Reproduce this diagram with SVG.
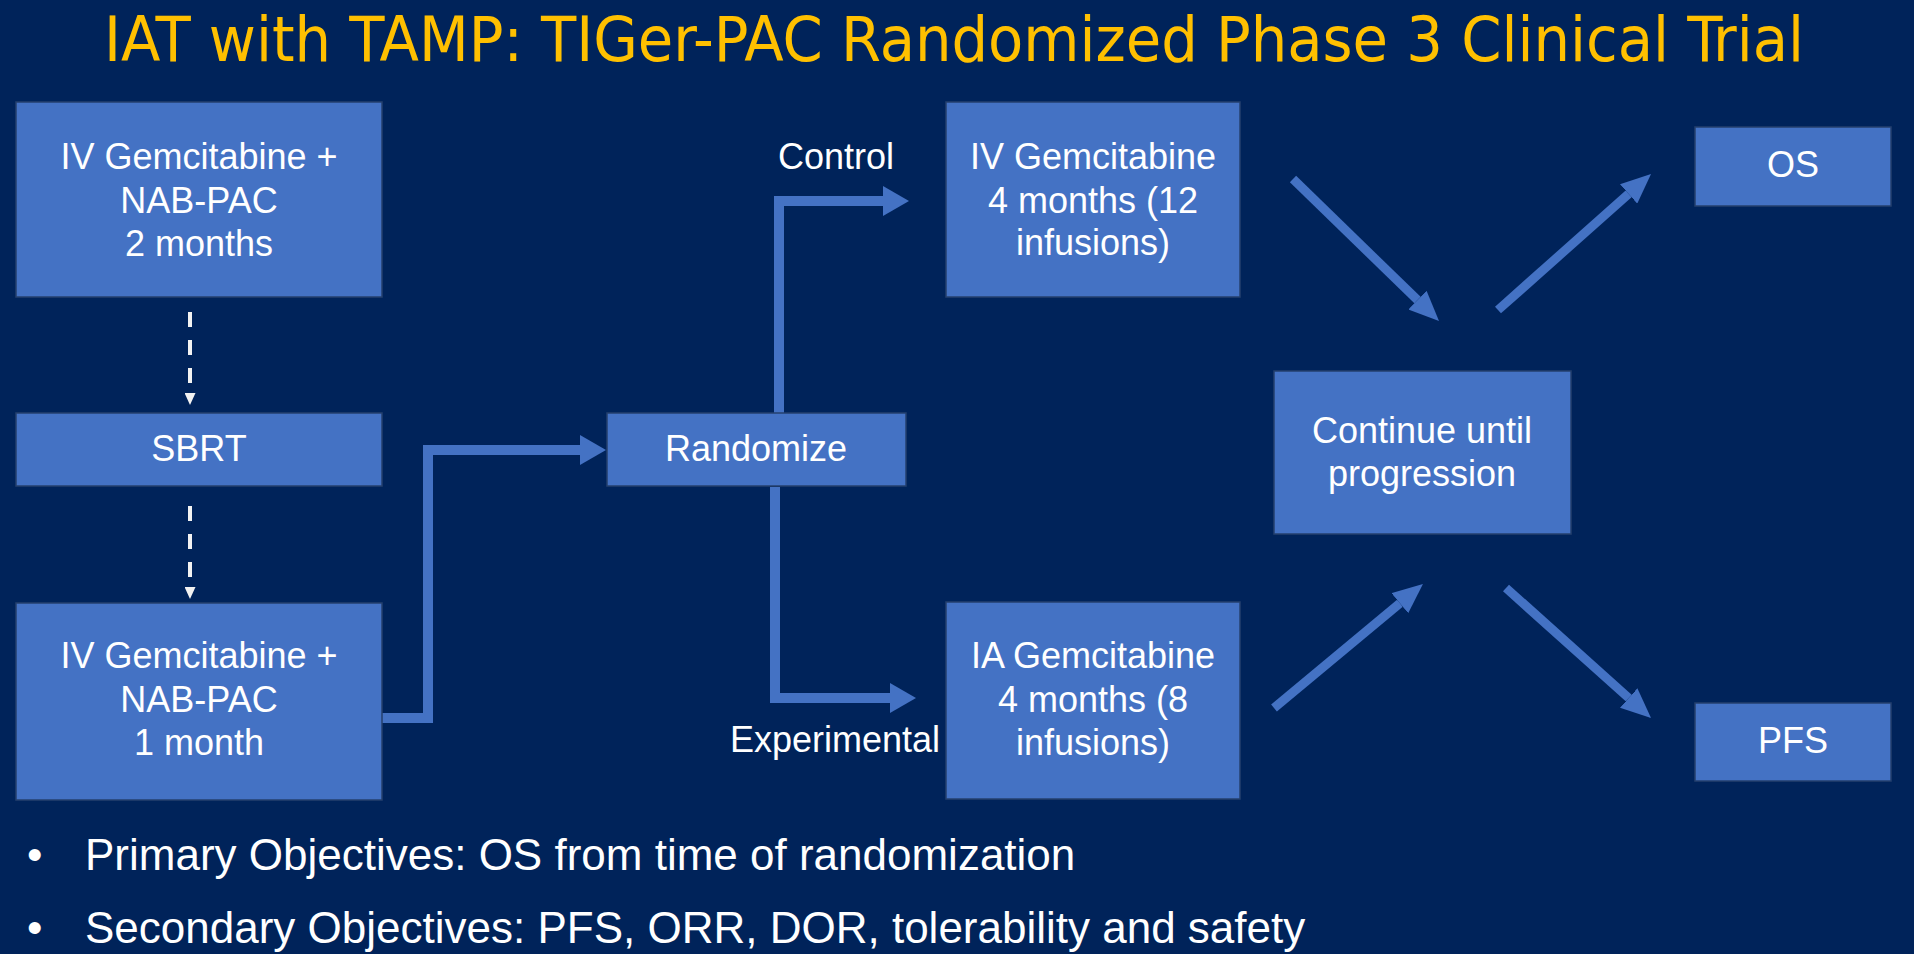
<svg xmlns="http://www.w3.org/2000/svg" width="1914" height="954" viewBox="0 0 1914 954">
<defs>
<style>
.box{fill:#4472C4;stroke:#24406E;stroke-width:1.5}
.t{font-family:"Liberation Sans",Arial,sans-serif;font-size:36px;fill:#FFFFFF;text-anchor:middle}
.lbl{font-family:"Liberation Sans",Arial,sans-serif;font-size:36px;fill:#FFFFFF}
.bul{font-family:"Liberation Sans",Arial,sans-serif;font-size:44px;fill:#FFFFFF}
.title{font-family:"DejaVu Sans Condensed","DejaVu Sans",sans-serif;font-size:63px;fill:#FFC000;text-anchor:middle}
.elbow{fill:none;stroke:#4472C4;stroke-width:10;stroke-linejoin:miter;marker-end:url(#bigHead)}
.diag{fill:none;stroke:#4472C4;stroke-width:9;marker-end:url(#diagHead)}
.dash{fill:none;stroke:#F2F2F2;stroke-width:4;stroke-dasharray:15 13;marker-end:url(#dashHead)}
</style>
<marker id="bigHead" markerUnits="userSpaceOnUse" markerWidth="26" markerHeight="30" refX="0" refY="15" orient="auto">
<path d="M0,0 L26,15 L0,30 z" fill="#4472C4"/>
</marker>
<marker id="diagHead" markerUnits="userSpaceOnUse" markerWidth="30" markerHeight="26" refX="0" refY="13" orient="auto">
<path d="M0,0 L30,13 L0,26 z" fill="#4472C4"/>
</marker>
<marker id="dashHead" markerUnits="userSpaceOnUse" markerWidth="12" markerHeight="11" refX="0" refY="5.5" orient="auto">
<path d="M0,0 L12,5.5 L0,11 z" fill="#F2F2F2"/>
</marker>
</defs>
<rect x="0" y="0" width="1914" height="954" fill="#00235A"/>
<text class="title" x="954" y="61" textLength="1700" lengthAdjust="spacingAndGlyphs">IAT with TAMP: TIGer-PAC Randomized Phase 3 Clinical Trial</text>

<g id="connectors">
<path class="dash" d="M190,312 V393"/>
<path class="dash" d="M190,506 V587"/>
<path class="elbow" d="M382,718 H428 V450 H580"/>
<path class="elbow" d="M779,413 V201 H883"/>
<path class="elbow" d="M775,487 V698 H890"/>
<path class="diag" d="M1293,179 L1417.5,300.1"/>
<path class="diag" d="M1498,310 L1628.6,193.9"/>
<path class="diag" d="M1274,708 L1399.9,603.2"/>
<path class="diag" d="M1506,588 L1628.7,698"/>
<text class="lbl" x="894" y="169" text-anchor="end">Control</text>
<text class="lbl" x="730" y="752">Experimental</text>
</g>

<g id="node-gem-2mo">
<rect class="box" x="16" y="102" width="366" height="195"/>
<text class="t" x="199" y="169">IV Gemcitabine +</text>
<text class="t" x="199" y="213">NAB-PAC</text>
<text class="t" x="199" y="256">2 months</text>
</g>
<g id="node-sbrt">
<rect class="box" x="16" y="413" width="366" height="73"/>
<text class="t" x="199" y="461">SBRT</text>
</g>
<g id="node-gem-1mo">
<rect class="box" x="16" y="603" width="366" height="197"/>
<text class="t" x="199" y="668">IV Gemcitabine +</text>
<text class="t" x="199" y="712">NAB-PAC</text>
<text class="t" x="199" y="755">1 month</text>
</g>
<g id="node-randomize">
<rect class="box" x="607" y="413" width="299" height="73"/>
<text class="t" x="756" y="461">Randomize</text>
</g>
<g id="node-iv-gem">
<rect class="box" x="946" y="102" width="294" height="195"/>
<text class="t" x="1093" y="169">IV Gemcitabine</text>
<text class="t" x="1093" y="213">4 months (12</text>
<text class="t" x="1093" y="255">infusions)</text>
</g>
<g id="node-ia-gem">
<rect class="box" x="946" y="602" width="294" height="197"/>
<text class="t" x="1093" y="668">IA Gemcitabine</text>
<text class="t" x="1093" y="712">4 months (8</text>
<text class="t" x="1093" y="755">infusions)</text>
</g>
<g id="node-continue">
<rect class="box" x="1274" y="371" width="297" height="163"/>
<text class="t" x="1422" y="443">Continue until</text>
<text class="t" x="1422" y="486">progression</text>
</g>
<g id="node-os">
<rect class="box" x="1695" y="127" width="196" height="79"/>
<text class="t" x="1793" y="177">OS</text>
</g>
<g id="node-pfs">
<rect class="box" x="1695" y="703" width="196" height="78"/>
<text class="t" x="1793" y="753">PFS</text>
</g>

<g id="bullets">
<text class="bul" x="27" y="870">•</text>
<text class="bul" x="85" y="870">Primary Objectives: OS from time of randomization</text>
<text class="bul" x="27" y="943">•</text>
<text class="bul" x="85" y="943">Secondary Objectives: PFS, ORR, DOR, tolerability and safety</text>
</g>
</svg>
